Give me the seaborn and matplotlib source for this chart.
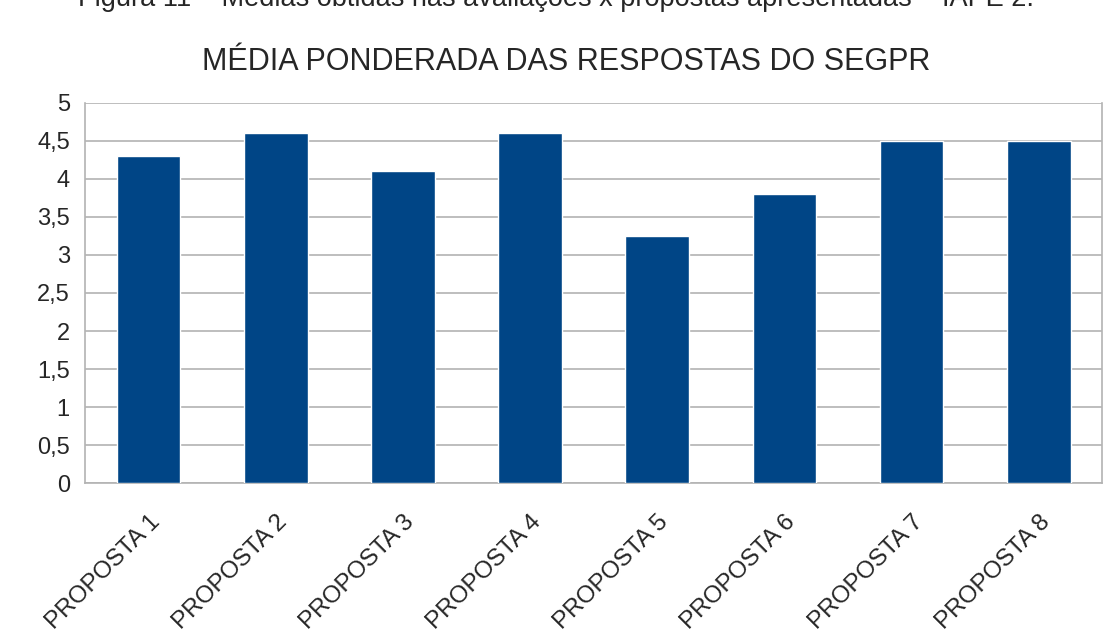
# Weighted average of the SEGPR answers per proposal
import numpy as np
import pandas as pd
import seaborn as sns
import matplotlib.pyplot as plt


# Data
propostas = ["PROPOSTA 1", "PROPOSTA 2", "PROPOSTA 3", "PROPOSTA 4",
             "PROPOSTA 5", "PROPOSTA 6", "PROPOSTA 7", "PROPOSTA 8"]
medias = [4.3, 4.6, 4.1, 4.6, 3.25, 3.8, 4.5, 4.5]
y_ticks = [0, 0.5, 1, 1.5, 2, 2.5, 3, 3.5, 4, 4.5, 5]
y_tick_labels = ["0", "0,5", "1", "1,5", "2", "2,5", "3", "3,5", "4",
                 "4,5", "5"]

titulo = "MÉDIA PONDERADA DAS RESPOSTAS DO SEGPR"
legenda_figura = ("Figura 11 – Médias obtidas nas avaliações x propostas "
                  "apresentadas – IAPE 2.")

df = pd.DataFrame({"Proposta": propostas, "Media": medias})


# Figure style
sns.set_style("white")
plt.rcParams["font.family"] = ["Liberation Sans", "DejaVu Sans"]

bar_color = "#004586"
grid_color = "#b3b3b3"

fig = plt.figure(figsize=(11.13, 6.39), dpi=100)
ax = fig.add_axes([0.0764, 0.244, 0.914, 0.595])

sns.barplot(data=df, x="Proposta", y="Media", color=bar_color,
            width=0.5, saturation=1, ax=ax, zorder=3)

ax.set_ylim(0, 5)
ax.set_xlim(-0.5, len(propostas) - 0.5)
ax.set_yticks(y_ticks)
ax.set_yticklabels(y_tick_labels, fontsize=17)
ax.yaxis.grid(True, color=grid_color, linewidth=1.2, zorder=0)
ax.tick_params(axis="y", length=8, width=1.2, color=grid_color, pad=3)

# Category labels rotated, tick marks between the categories
ax.set_xticks(range(len(propostas)))
ax.set_xticklabels(propostas, rotation=45, ha="right",
                   rotation_mode="anchor", fontsize=17.5)
ax.tick_params(axis="x", which="major", length=0, pad=20)
ax.set_xticks(np.arange(-0.5, len(propostas)), minor=True)
ax.tick_params(axis="x", which="minor", length=9, width=1.2,
               color=grid_color)

ax.set_xlabel("")
ax.set_ylabel("")
for side in ["left", "right", "bottom"]:
    ax.spines[side].set_color(grid_color)
    ax.spines[side].set_linewidth(1.2)
ax.spines["top"].set_visible(False)

# Chart title, centred on the whole chart frame
fig.text(566 / 1113, 1 - 70 / 639, titulo, ha="center", va="baseline",
         fontsize=22)

# Caption of the figure, cut by the top edge in the reference
fig.text(0.5, 1 - 6 / 639, legenda_figura, ha="center", va="baseline",
         fontsize=19.5)

fig.savefig("out.png", dpi=100)
